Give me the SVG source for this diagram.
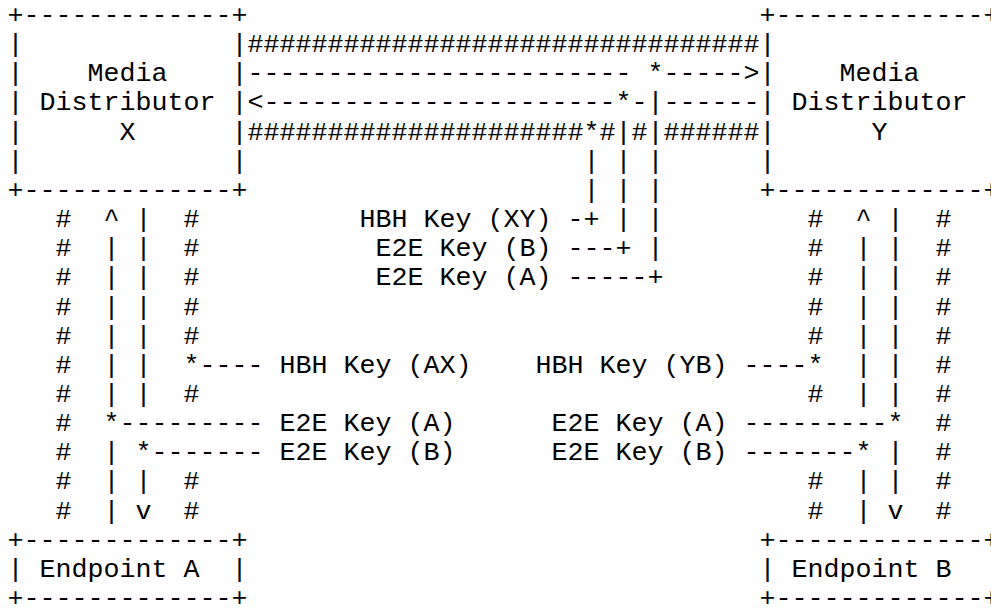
<svg xmlns="http://www.w3.org/2000/svg" width="991" height="608" viewBox="0 0 991 608" xml:space="preserve">
<style>
text { font-family: "Liberation Mono", "Courier New", monospace; font-size: 26.67px; fill: #000; white-space: pre; }
</style>
<rect x="0" y="0" width="991" height="608" fill="#fff"/>
<g id="node-media-distributor-x">
<text x="7.5" y="23">+-------------+</text>
<text x="7.5" y="52.15">|             |</text>
<text x="7.5" y="81.3">|    Media    |</text>
<text x="7.5" y="110.45">| Distributor |</text>
<text x="7.5" y="139.6">|      X      |</text>
<text x="7.5" y="168.75">|             |</text>
<text x="7.5" y="197.9">+-------------+</text>
</g>
<g id="node-media-distributor-y">
<text x="759.5" y="23">+-------------+</text>
<text x="759.5" y="52.15">|</text>
<text x="759.5" y="81.3">|    Media</text>
<text x="759.5" y="110.45">| Distributor</text>
<text x="759.5" y="139.6">|      Y</text>
<text x="759.5" y="168.75">|</text>
<text x="759.5" y="197.9">+-------------+</text>
</g>
<g id="node-endpoint-a">
<text x="7.5" y="547.7">+-------------+</text>
<text x="7.5" y="576.85">| Endpoint A  |</text>
<text x="7.5" y="606">+-------------+</text>
</g>
<g id="node-endpoint-b">
<text x="759.5" y="547.7">+-------------+</text>
<text x="759.5" y="576.85">| Endpoint B</text>
<text x="759.5" y="606">+-------------+</text>
</g>
<g id="connectors">
<text x="247.5" y="52.15">################################</text>
<text x="247.5" y="81.3">------------------------ *-----&gt;</text>
<text x="247.5" y="110.45">&lt;----------------------*-|------</text>
<text x="247.5" y="139.6">#####################*#|#|######</text>
<text x="583.5" y="168.75">| | |</text>
<text x="583.5" y="197.9">| | |</text>
<text x="55.5" y="227.05">#  ^ |  #</text>
<text x="567.5" y="227.05">-+ | |</text>
<text x="807.5" y="227.05">#  ^ |  #</text>
<text x="55.5" y="256.2">#  | |  #</text>
<text x="567.5" y="256.2">---+ |</text>
<text x="807.5" y="256.2">#  | |  #</text>
<text x="55.5" y="285.35">#  | |  #</text>
<text x="567.5" y="285.35">-----+</text>
<text x="807.5" y="285.35">#  | |  #</text>
<text x="55.5" y="314.5">#  | |  #</text>
<text x="807.5" y="314.5">#  | |  #</text>
<text x="55.5" y="343.65">#  | |  #</text>
<text x="807.5" y="343.65">#  | |  #</text>
<text x="55.5" y="372.8">#  | |  *----</text>
<text x="743.5" y="372.8">----*  | |  #</text>
<text x="55.5" y="401.95">#  | |  #</text>
<text x="807.5" y="401.95">#  | |  #</text>
<text x="55.5" y="431.1">#  *---------</text>
<text x="743.5" y="431.1">---------*  #</text>
<text x="55.5" y="460.25">#  | *-------</text>
<text x="743.5" y="460.25">-------* |  #</text>
<text x="55.5" y="489.4">#  | |  #</text>
<text x="807.5" y="489.4">#  | |  #</text>
<text x="55.5" y="518.55">#  | v  #</text>
<text x="807.5" y="518.55">#  | v  #</text>
</g>
<g id="labels">
<text x="359.5" y="227.05">HBH Key (XY)</text>
<text x="375.5" y="256.2">E2E Key (B)</text>
<text x="375.5" y="285.35">E2E Key (A)</text>
<text x="279.5" y="372.8">HBH Key (AX)</text>
<text x="535.5" y="372.8">HBH Key (YB)</text>
<text x="279.5" y="431.1">E2E Key (A)</text>
<text x="551.5" y="431.1">E2E Key (A)</text>
<text x="279.5" y="460.25">E2E Key (B)</text>
<text x="551.5" y="460.25">E2E Key (B)</text>
</g>
</svg>
